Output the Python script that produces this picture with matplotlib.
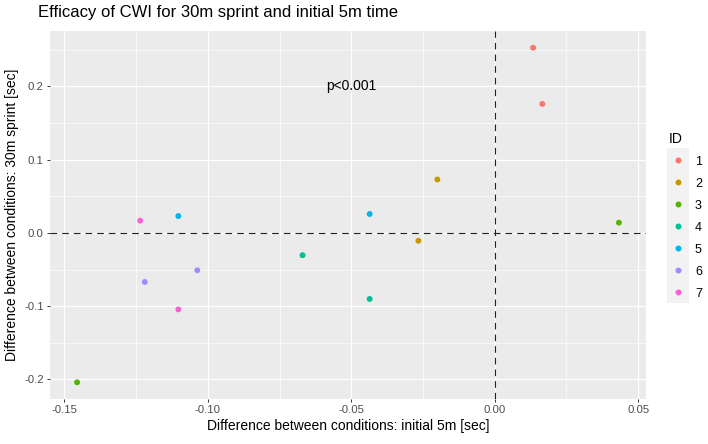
import matplotlib
matplotlib.use("Agg")
import matplotlib.pyplot as plt
from matplotlib.patches import Rectangle
from matplotlib.lines import Line2D

plt.rcParams['font.family'] = ['Liberation Sans', 'DejaVu Sans']

ids = ['1', '1', '2', '2', '3', '3', '4', '4', '5', '5', '6', '6', '7', '7']
x_5m = [0.0134, 0.0166, -0.0200, -0.0266, 0.0433, -0.1456, -0.0670, -0.0436,
        -0.1103, -0.0436, -0.1037, -0.1220, -0.1236, -0.1103]
y_30m = [0.2527, 0.1760, 0.0729, -0.0107, 0.0140, -0.2038, -0.0304, -0.0901,
         0.0230, 0.0258, -0.0510, -0.0669, 0.0167, -0.1044]
id_levels = ['1', '2', '3', '4', '5', '6', '7']
palette = ['#F8766D', '#C49A00', '#53B400', '#00C094', '#00B6EB', '#A58AFF', '#FB61D7']
x_ticks = [-0.15, -0.10, -0.05, 0.00, 0.05]
x_ticklabels = ['-0.15', '-0.10', '-0.05', '0.00', '0.05']
y_ticks = [-0.2, -0.1, 0.0, 0.1, 0.2]
y_ticklabels = ['-0.2', '-0.1', '0.0', '0.1', '0.2']
annotation = 'p<0.001'
annot_xy = (-0.05, 0.2)

fig = plt.figure(figsize=(7.08, 4.44), dpi=100)
ax = fig.add_axes([50/708, 1-399/444, (646-50)/708, (399-31)/444])
ax.set_facecolor('#EBEBEB')
for s in ax.spines.values():
    s.set_visible(False)

# data range with 5% expansion
xmin, xmax = min(x_5m), max(x_5m)
ymin, ymax = min(y_30m), max(y_30m)
dx, dy = (xmax - xmin) * 0.05, (ymax - ymin) * 0.05
ax.set_xlim(xmin - dx, xmax + dx)
ax.set_ylim(ymin - dy, ymax + dy)

ax.set_xticks(x_ticks)
ax.set_xticklabels(x_ticklabels)
ax.set_yticks(y_ticks)
ax.set_yticklabels(y_ticklabels)
ax.set_xticks([-0.125, -0.075, -0.025, 0.025], minor=True)
ax.set_yticks([-0.15, -0.05, 0.05, 0.15, 0.25], minor=True)
ax.grid(which='major', color='white', linewidth=0.9)
ax.grid(which='minor', color='white', linewidth=0.45)
ax.set_axisbelow(True)
ax.tick_params(which='major', length=2.5, width=0.7, color='#333333',
               labelcolor='#4D4D4D', labelsize=8.2, pad=2)
ax.tick_params(which='minor', length=0)

ax.axhline(0, color='#222222', lw=0.8, ls=(0, (6, 4.5)), zorder=2)
ax.axvline(0, color='#222222', lw=0.8, ls=(0, (6, 4.5)), zorder=2)

for lvl, col in zip(id_levels, palette):
    xs = [x for x, i in zip(x_5m, ids) if i == lvl]
    ys = [y for y, i in zip(y_30m, ids) if i == lvl]
    ax.scatter(xs, ys, s=18, color=col, edgecolors='none', zorder=3, label=lvl)

ax.text(annot_xy[0], annot_xy[1], annotation, ha='center', va='center',
        fontsize=10, color='black')

ax.set_xlabel('Difference between conditions: initial 5m [sec]', fontsize=10, labelpad=3)
ax.set_ylabel('Difference between conditions: 30m sprint [sec]', fontsize=10, labelpad=4)
fig.text(38/708, 1-12/444, 'Efficacy of CWI for 30m sprint and initial 5m time',
         fontsize=12, ha='left', va='center')

# legend key background
fig.patches.append(Rectangle((667/708, 1-303/444), 22/708, (303-148)/444,
                             transform=fig.transFigure, facecolor='#F2F2F2',
                             edgecolor='none', zorder=0))
handles = [Line2D([], [], marker='o', ls='none', markersize=4.3,
                  markerfacecolor=c, markeredgecolor='none') for c in palette]
leg = fig.legend(handles, id_levels, title='ID', loc='upper left',
                 bbox_to_anchor=(660/708, 1-123/444), frameon=False,
                 fontsize=9, title_fontsize=10, labelspacing=0.8,
                 handlelength=1.4, handletextpad=0.7, borderpad=0.2)
leg._legend_box.align = 'left'

fig.savefig('out.png', dpi=100)
